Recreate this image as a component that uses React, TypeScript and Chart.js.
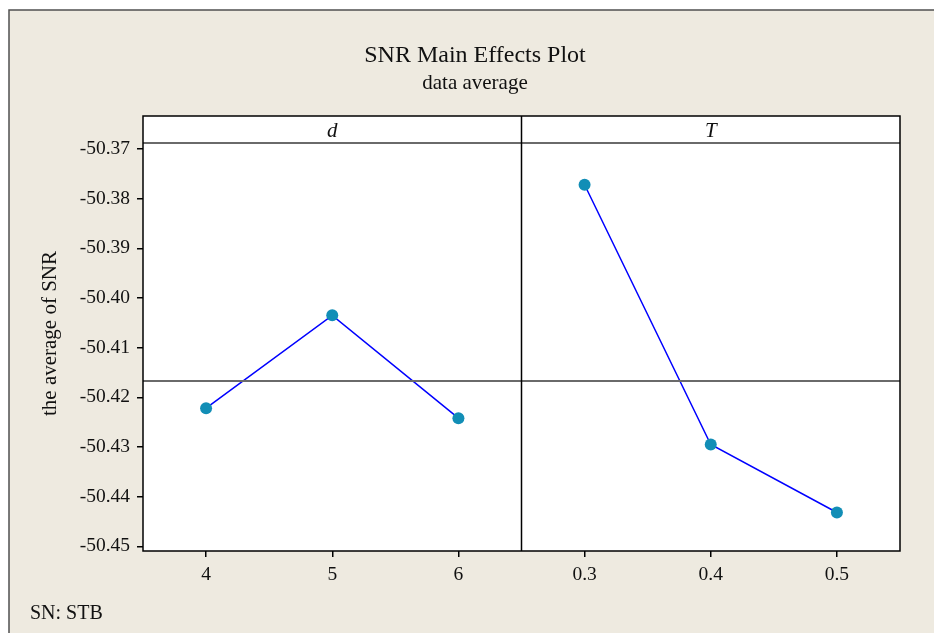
import React, { useEffect, useRef } from "react";
import { Chart, registerables } from "chart.js";
Chart.register(...registerables);

// ---- data ----
const panelNames = ["d", "T"];
const dLevels = ["4", "5", "6"];
const dMeans = [-50.4222, -50.4035, -50.4242];
const tLevels = ["0.3", "0.4", "0.5"];
const tMeans = [-50.3772, -50.4295, -50.4432];
const overallMean = -50.4167;
const yTicks = [-50.37, -50.38, -50.39, -50.4, -50.41, -50.42, -50.43, -50.44, -50.45];
const yMin = -50.45095;
const yMax = -50.3688;

const titleText = "SNR Main Effects Plot";
const subtitleText = "data average";
const yTitleText = "the average of SNR";
const footText = "SN: STB";

const SERIF = "'Liberation Serif', 'Times New Roman', serif";
const BEIGE = "#EEEAE0";
const MARKER = "#128EB6";
const HEADER_TOP = 116;

const xLabels = [...dLevels, ...tLevels];

const decorPlugin = {
  id: "decor",
  beforeDraw(chart: any) {
    const { ctx, width, height } = chart;
    ctx.save();
    ctx.fillStyle = "#ffffff";
    ctx.fillRect(0, 0, width, height);
    ctx.fillStyle = BEIGE;
    ctx.fillRect(9, 10, width, height);
    ctx.strokeStyle = "#505050";
    ctx.lineWidth = 1.5;
    ctx.beginPath();
    ctx.moveTo(9, height + 5);
    ctx.lineTo(9, 10);
    ctx.lineTo(width + 5, 10);
    ctx.stroke();
    // header strip background
    const a = chart.chartArea;
    ctx.fillStyle = "#ffffff";
    ctx.fillRect(a.left, HEADER_TOP, a.right - a.left, a.top - HEADER_TOP);
    ctx.fillRect(a.left, a.top, a.right - a.left, a.bottom - a.top);
    ctx.restore();
  },
  afterDraw(chart: any) {
    const { ctx } = chart;
    const a = chart.chartArea;
    const xs = chart.scales.x;
    ctx.save();
    // titles
    ctx.fillStyle = "#111";
    ctx.textAlign = "center";
    ctx.textBaseline = "alphabetic";
    ctx.font = `24px ${SERIF}`;
    ctx.fillText(titleText, 475, 62);
    ctx.font = `21px ${SERIF}`;
    ctx.fillText(subtitleText, 475, 89);
    // y title
    ctx.save();
    ctx.translate(56, (HEADER_TOP + a.bottom) / 2);
    ctx.rotate(-Math.PI / 2);
    ctx.font = `21px ${SERIF}`;
    ctx.fillText(yTitleText, 0, 0);
    ctx.restore();
    // footer
    ctx.textAlign = "left";
    ctx.font = `20px ${SERIF}`;
    ctx.fillText(footText, 30, 619);
    // gray header separator
    ctx.strokeStyle = "#6a6a6a";
    ctx.lineWidth = 2;
    ctx.beginPath();
    ctx.moveTo(a.left, a.top);
    ctx.lineTo(a.right, a.top);
    ctx.stroke();
    // frame
    ctx.strokeStyle = "#000";
    ctx.lineWidth = 1.5;
    ctx.strokeRect(a.left, HEADER_TOP, a.right - a.left, a.bottom - HEADER_TOP);
    const divX = xs.getPixelForValue(dLevels.length);
    ctx.beginPath();
    ctx.moveTo(divX, HEADER_TOP);
    ctx.lineTo(divX, a.bottom);
    ctx.stroke();
    // panel names
    ctx.textAlign = "center";
    ctx.font = `italic 21px ${SERIF}`;
    ctx.fillStyle = "#111";
    const mid = (HEADER_TOP + a.top) / 2 + 7;
    ctx.fillText(panelNames[0], (a.left + divX) / 2, mid);
    ctx.fillText(panelNames[1], (divX + a.right) / 2, mid);
    ctx.restore();
  },
};

export default function App() {
  const ref = useRef<HTMLCanvasElement>(null);
  useEffect(() => {
    if (!ref.current) return;
    const n = dLevels.length;
    const dData = dMeans.map((v, i) => ({ x: i + 0.5, y: v }));
    const tData = tMeans.map((v, i) => ({ x: n + i + 0.5, y: v }));
    const total = dLevels.length + tLevels.length;
    const chart = new Chart(ref.current, {
      type: "line",
      data: {
        datasets: [
          {
            data: [
              { x: 0, y: overallMean },
              { x: total, y: overallMean },
            ],
            borderColor: "#6a6a6a",
            borderWidth: 2,
            pointRadius: 0,
          },
          {
            data: dData,
            borderColor: "#0000ff",
            borderWidth: 1.5,
            pointRadius: 6,
            pointBackgroundColor: MARKER,
            pointBorderColor: MARKER,
            pointBorderWidth: 0,
          },
          {
            data: tData,
            borderColor: "#0000ff",
            borderWidth: 1.5,
            pointRadius: 6,
            pointBackgroundColor: MARKER,
            pointBorderColor: MARKER,
            pointBorderWidth: 0,
          },
        ],
      },
      options: {
        animation: false,
        responsive: false,
        parsing: true,
        layout: { padding: { top: 143, right: 34, left: 0, bottom: 0 } },
        plugins: {
          legend: { display: false },
          tooltip: { enabled: false },
          title: { display: false },
        },
        scales: {
          x: {
            type: "linear",
            min: 0,
            max: total,
            afterBuildTicks: (s: any) => {
              s.ticks = xLabels.map((_, i) => ({ value: i + 0.5 }));
            },
            afterFit: (s: any) => {
              s.height = 82;
            },
            ticks: {
              autoSkip: false,
              maxRotation: 0,
              padding: 6,
              color: "#111",
              font: { family: SERIF, size: 19.5 },
              callback: (_v: any, i: number) => xLabels[i],
            },
            grid: {
              drawOnChartArea: false,
              drawTicks: true,
              tickLength: 6,
              color: "#000",
              lineWidth: 1.5,
            },
            border: { display: false },
          },
          y: {
            type: "linear",
            min: yMin,
            max: yMax,
            afterBuildTicks: (s: any) => {
              s.ticks = yTicks.map((v) => ({ value: v }));
            },
            afterFit: (s: any) => {
              s.width = 143;
            },
            ticks: {
              autoSkip: false,
              padding: 7,
              color: "#111",
              font: { family: SERIF, size: 19.5 },
              callback: (v: any) => Number(v).toFixed(2),
            },
            grid: {
              drawOnChartArea: false,
              drawTicks: true,
              tickLength: 6,
              color: "#000",
              lineWidth: 1.5,
            },
            border: { display: false },
          },
        },
      },
      plugins: [decorPlugin],
    });
    return () => chart.destroy();
  }, []);
  return (
    <div style={{ position: "fixed", left: 0, top: 0, width: 934, height: 633 }}>
      <canvas ref={ref} width={934} height={633} style={{ width: 934, height: 633 }} />
    </div>
  );
}
